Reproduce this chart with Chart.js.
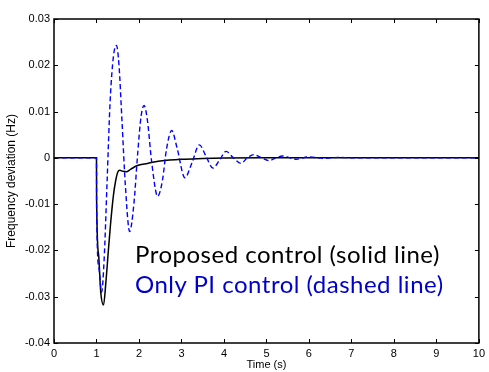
<!DOCTYPE html>
<html><head><meta charset="utf-8">
<script src="https://cdn.jsdelivr.net/npm/chart.js@4"></script>
<style>
html,body{margin:0;padding:0;background:#fff;}
#wrap{position:relative;width:489px;height:372px;}
.note{position:absolute;font-family:Lato,"Open Sans",sans-serif;font-size:24px;letter-spacing:0.5px;white-space:nowrap;line-height:1;}
</style></head>
<body>
<div id="wrap">
<canvas id="c" width="489" height="372"></canvas>
<div class="note" id="n1" style="left:135px;top:242px;color:#000;">Proposed control (solid line)</div>
<div class="note" id="n2" style="left:135px;top:272px;color:#0000CC;">Only PI control (dashed line)</div>
</div>
<script>
const xTicks = [0,1,2,3,4,5,6,7,8,9,10];
const yTicks = [-0.04,-0.03,-0.02,-0.01,0,0.01,0.02,0.03];
const yTickLabels = ["-0.04","-0.03","-0.02","-0.01","0","0.01","0.02","0.03"];

const timeProposed = [0,1.0,1.003,1.05,1.1,1.165,1.22,1.28,1.33,1.4,1.45,1.5,1.55,1.62,1.7,1.8,1.95,2.2,2.5,3.0,3.5,4.0,5.0,10];
const freqProposed = [0,0,-0.009,-0.021,-0.029,-0.0318,-0.027,-0.02,-0.0144,-0.008,-0.005,-0.0031,-0.0027,-0.0029,-0.003,-0.0025,-0.0017,-0.0012,-0.0007,-0.0003,-0.00015,-0.00005,0,0];

const timePI = [0,1.0,1.003,1.06,1.12,1.18,1.25,1.32,1.4,1.47,1.53,1.6,1.68,1.78,1.88,1.97,2.05,2.12,2.2,2.3,2.44,2.55,2.65,2.77,2.9,3.08,3.25,3.42,3.58,3.74,3.9,4.05,4.22,4.4,4.55,4.71,4.88,5.06,5.22,5.38,5.7,6.0,6.35,6.7,7.0,10];
const freqPI = [0,0,-0.011,-0.024,-0.029,-0.022,-0.005,0.012,0.022,0.0243,0.02,0.008,-0.006,-0.0159,-0.01,0.001,0.009,0.0113,0.008,-0.001,-0.0083,-0.005,0.002,0.0059,0.002,-0.0043,-0.001,0.0028,0.0003,-0.0022,-0.0004,0.0014,0,-0.0012,0,0.0007,0,-0.0006,0,0.0004,-0.0003,0.0002,-0.0001,0.0001,0,0];

const ptsProposed = timeProposed.map((t,i)=>({x:t,y:freqProposed[i]}));
const ptsPI = timePI.map((t,i)=>({x:t,y:freqPI[i]}));

const frame = {
  id:'frame',
  afterDraw(chart){
    const {ctx, chartArea:a, scales:{x,y}} = chart;
    ctx.save();
    ctx.strokeStyle='#000';
    ctx.lineWidth=1;
    xTicks.forEach(v=>{
      const px=Math.round(x.getPixelForValue(v))+0.5;
      ctx.beginPath();
      ctx.moveTo(px,a.bottom);ctx.lineTo(px,a.bottom-4);
      ctx.moveTo(px,a.top);ctx.lineTo(px,a.top+4);
      ctx.stroke();
    });
    yTicks.forEach(v=>{
      const py=Math.round(y.getPixelForValue(v))+0.5;
      ctx.beginPath();
      ctx.moveTo(a.left,py);ctx.lineTo(a.left+4,py);
      ctx.moveTo(a.right,py);ctx.lineTo(a.right-4,py);
      ctx.stroke();
    });
    ctx.lineWidth=1.5;
    ctx.strokeRect(a.left,a.top,a.right-a.left,a.bottom-a.top);
    ctx.restore();
  }
};

new Chart(document.getElementById('c'),{
  type:'line',
  data:{datasets:[
    {label:'Only PI control',data:ptsPI,borderColor:'#0000FF',borderWidth:1.4,borderDash:[5,3],pointRadius:0,cubicInterpolationMode:'monotone',fill:false},
    {label:'Proposed control',data:ptsProposed,borderColor:'#000000',borderWidth:1.5,pointRadius:0,cubicInterpolationMode:'monotone',fill:false}
  ]},
  options:{
    responsive:false,animation:false,
    layout:{padding:{top:19,right:6,left:0,bottom:0}},
    plugins:{legend:{display:false},tooltip:{enabled:false}},
    scales:{
      x:{type:'linear',min:0,max:10,
        afterBuildTicks(s){s.ticks=xTicks.map(v=>({value:v}));},
        afterFit(s){s.height=29;},
        grid:{display:false,drawTicks:false},border:{display:false},
        ticks:{color:'#000',padding:4,font:{family:'"Liberation Sans",Arial,sans-serif',size:11},maxRotation:0,autoSkip:false},
        title:{display:true,text:'Time (s)',color:'#000',font:{family:'"Liberation Sans",Arial,sans-serif',size:11},padding:{top:0,bottom:0}}
      },
      y:{type:'linear',min:-0.04,max:0.03,
        afterBuildTicks(s){s.ticks=yTicks.map(v=>({value:v}));},
        afterFit(s){s.width=54;},
        grid:{display:false,drawTicks:false},border:{display:false},
        ticks:{color:'#000',padding:4,font:{family:'"Liberation Sans",Arial,sans-serif',size:11},autoSkip:false,
          callback:(v)=>{const i=yTicks.findIndex(t=>Math.abs(t-v)<1e-9);return i>=0?yTickLabels[i]:'';}},
        title:{display:true,text:'Frequency deviation (Hz)',color:'#000',font:{family:'"Liberation Sans",Arial,sans-serif',size:12},padding:{top:4,bottom:0}}
      }
    }
  },
  plugins:[frame]
});
</script>
</body></html>
